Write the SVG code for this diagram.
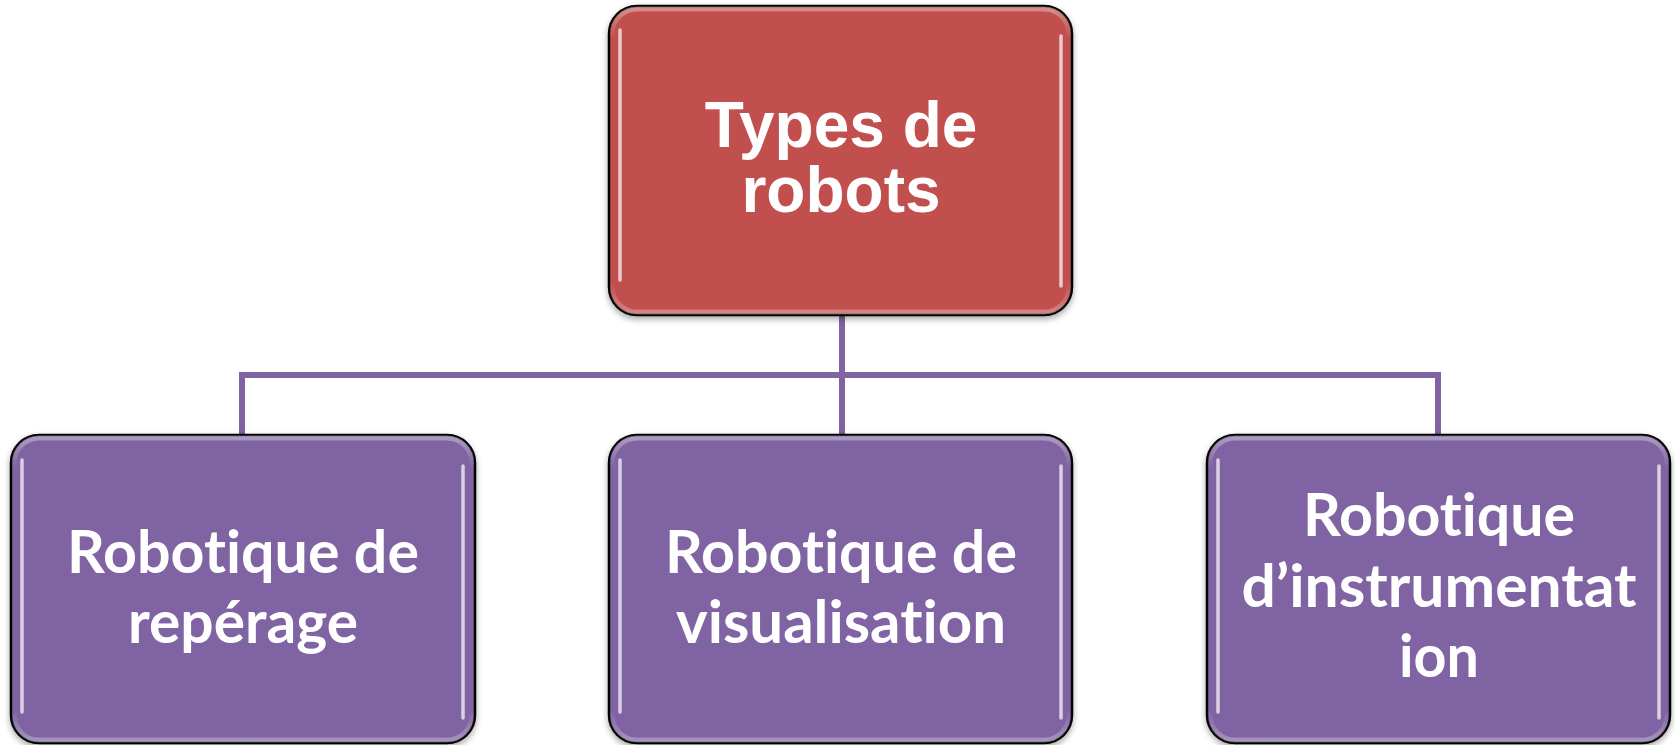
<svg xmlns="http://www.w3.org/2000/svg" width="1675" height="745" viewBox="0 0 1675 745">
<defs>
<style>
.box{stroke:#000;stroke-width:2.5}
.red{fill:#C0504D}
.purple{fill:#8064A2}
.hl{fill:none;stroke:#fff;stroke-width:3.5;stroke-linecap:round;opacity:0.7}
.edge{fill:none;stroke:url(#edgeGrad);stroke-width:5}
.conn{fill:none;stroke:#8064A2;stroke-width:6}
.t1{font-family:"Liberation Sans",Arial,sans-serif;font-weight:bold;font-size:64px;fill:#fff;text-anchor:middle}
.t2{font-family:"Lato","Open Sans",sans-serif;font-weight:bold;font-size:60px;fill:#fff;text-anchor:middle;font-variant-ligatures:none;font-feature-settings:"liga" 0,"clig" 0}
</style>
<linearGradient id="edgeGrad" x1="0" y1="0" x2="0" y2="1">
<stop offset="0" stop-color="#fff" stop-opacity="0.35"/>
<stop offset="0.1" stop-color="#fff" stop-opacity="0"/>
<stop offset="0.9" stop-color="#fff" stop-opacity="0"/>
<stop offset="1" stop-color="#fff" stop-opacity="0.3"/>
</linearGradient>
<filter id="sh" x="-5%" y="-5%" width="110%" height="115%">
<feGaussianBlur in="SourceAlpha" stdDeviation="3"/>
<feOffset dx="0" dy="3" result="b"/>
<feComponentTransfer><feFuncA type="linear" slope="0.35"/></feComponentTransfer>
<feMerge><feMergeNode/><feMergeNode in="SourceGraphic"/></feMerge>
</filter>
</defs>
<rect width="1675" height="745" fill="#fff"/>
<g id="connectors">
<path class="conn" d="M842 315 V435"/>
<path class="conn" d="M242 435 V375 H1438 V435"/>
</g>
<g id="node-top">
<rect class="box red" x="609" y="6" width="463" height="309" rx="28" filter="url(#sh)"/>
<rect class="edge" x="612" y="9" width="457" height="303" rx="25"/>
<path class="hl" d="M620 30 V280"/>
<path class="hl" d="M1061 36 V286"/>
<text class="t1" x="841" y="147">Types de</text>
<text class="t1" x="841" y="212">robots</text>
</g>
<g id="node-left">
<rect class="box purple" x="11" y="435" width="464" height="308" rx="28" filter="url(#sh)"/>
<rect class="edge" x="14" y="438" width="458" height="302" rx="25"/>
<path class="hl" d="M22 460 V712"/>
<path class="hl" d="M463 466 V718"/>
<text class="t2" x="243" y="573" textLength="352" lengthAdjust="spacingAndGlyphs">Robotique de</text>
<text class="t2" x="243" y="643" textLength="230" lengthAdjust="spacingAndGlyphs">repérage</text>
</g>
<g id="node-middle">
<rect class="box purple" x="609" y="435" width="463" height="308" rx="28" filter="url(#sh)"/>
<rect class="edge" x="612" y="438" width="457" height="302" rx="25"/>
<path class="hl" d="M620 460 V712"/>
<path class="hl" d="M1061 466 V718"/>
<text class="t2" x="841" y="573" textLength="352" lengthAdjust="spacingAndGlyphs">Robotique de</text>
<text class="t2" x="841" y="643">visualisation</text>
</g>
<g id="node-right">
<rect class="box purple" x="1207" y="435" width="463" height="308" rx="28" filter="url(#sh)"/>
<rect class="edge" x="1210" y="438" width="457" height="302" rx="25"/>
<path class="hl" d="M1218 460 V712"/>
<path class="hl" d="M1659 466 V718"/>
<text class="t2" x="1439" y="536" textLength="272" lengthAdjust="spacingAndGlyphs">Robotique</text>
<text class="t2" x="1439" y="607" textLength="395" lengthAdjust="spacingAndGlyphs">d’instrumentat</text>
<text class="t2" x="1439" y="677" textLength="80" lengthAdjust="spacingAndGlyphs">ion</text>
</g>
</svg>
